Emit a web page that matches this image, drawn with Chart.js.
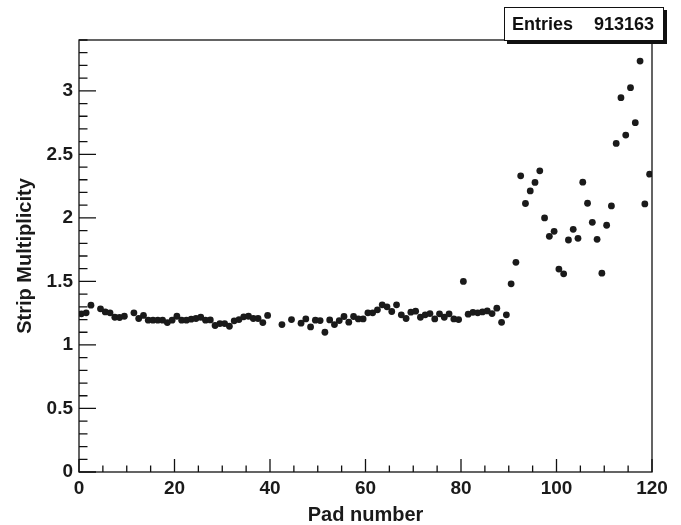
<!DOCTYPE html>
<html>
<head>
<meta charset="utf-8">
<script src="https://cdn.jsdelivr.net/npm/chart.js@4/dist/chart.umd.min.js"></script>
<style>
  body { margin: 0; background: #fff; }
  #wrap { width: 681px; height: 525px; }
</style>
</head>
<body>
<div id="wrap"><canvas id="myChart" width="681" height="525"></canvas></div>
<script>
// mean strip multiplicity per pad (null = empty pad)
const multiplicity = [
  1.245, 1.253, 1.313, null, 1.284, 1.26, 1.253, 1.218, 1.216, 1.226,
  null, 1.253, 1.208, 1.232, 1.195, 1.195, 1.195, 1.195, 1.176, 1.195,
  1.226, 1.195, 1.195, 1.203, 1.208, 1.218, 1.195, 1.197, 1.153, 1.168,
  1.168, 1.147, 1.19, 1.2, 1.221, 1.226, 1.208, 1.208, 1.176, 1.232,
  null, null, 1.16, null, 1.2, null, 1.171, 1.205, 1.142, 1.195,
  1.192, 1.1, 1.197, 1.16, 1.192, 1.224, 1.179, 1.224, 1.205, 1.205,
  1.253, 1.253, 1.276, 1.316, 1.3, 1.263, 1.316, 1.237, 1.208, 1.258,
  1.266, 1.218, 1.237, 1.247, 1.205, 1.245, 1.218, 1.245, 1.205, 1.2,
  1.5, 1.242, 1.257, 1.253, 1.26, 1.268, 1.247, 1.289, 1.178, 1.237,
  1.481, 1.65, 2.331, 2.113, 2.212, 2.279, 2.37, 2.0, 1.855, 1.894,
  1.597, 1.56, 1.826, 1.91, 1.839, 2.281, 2.115, 1.965, 1.831, 1.565,
  1.942, 2.094, 2.586, 2.946, 2.652, 3.025, 2.749, 3.234, 2.11, 2.344
];
const pads = multiplicity.map((v, i) => i);
const entries = 913163;

const points = [];
pads.forEach((p, i) => {
  if (multiplicity[i] !== null) points.push({ x: p + 0.5, y: multiplicity[i] });
});

const FONT = "'Liberation Sans', Arial, Helvetica, sans-serif";

// ROOT style frame, inward ticks and the stats box
const rootFrame = {
  id: 'rootFrame',
  afterDraw(chart) {
    const { ctx, chartArea: a, scales: { x, y } } = chart;
    ctx.save();
    ctx.strokeStyle = '#111';
    ctx.lineWidth = 1.3;
    ctx.strokeRect(a.left, a.top, a.right - a.left, a.bottom - a.top);

    ctx.beginPath();
    for (let i = 0; i <= 120; i += 5) {
      const px = x.getPixelForValue(i);
      const len = i % 20 === 0 ? 13 : 6.5;
      ctx.moveTo(px, a.bottom);
      ctx.lineTo(px, a.bottom - len);
    }
    for (let k = 0; k <= 34; k++) {
      const py = y.getPixelForValue(k / 10);
      const len = k % 5 === 0 ? 17 : 8.5;
      ctx.moveTo(a.left, py);
      ctx.lineTo(a.left + len, py);
    }
    ctx.stroke();

    // stats box
    ctx.fillStyle = '#111';
    ctx.fillRect(507, 10, 160, 34);
    ctx.fillStyle = '#fff';
    ctx.fillRect(504, 7, 160, 34);
    ctx.lineWidth = 1;
    ctx.strokeRect(504.5, 7.5, 159, 33);
    ctx.fillStyle = '#111';
    ctx.font = 'bold 18px ' + FONT;
    ctx.textBaseline = 'alphabetic';
    ctx.textAlign = 'left';
    ctx.fillText('Entries', 512, 30);
    ctx.textAlign = 'right';
    ctx.fillText(String(entries), 654, 30);
    ctx.restore();
  }
};

const config = {
  type: 'scatter',
  data: {
    datasets: [{
      data: points,
      backgroundColor: '#1a1a1a',
      borderWidth: 0,
      pointRadius: 3.4,
      pointHoverRadius: 3.4
    }]
  },
  options: {
    responsive: false,
    animation: false,
    layout: { padding: { top: 40, right: 29, left: 0, bottom: 0 } },
    scales: {
      x: {
        type: 'linear',
        min: 0,
        max: 120,
        afterFit: s => { s.height = 53; },
        grid: { display: false, drawTicks: false },
        border: { display: false },
        ticks: {
          stepSize: 20,
          padding: 5,
          color: '#1a1a1a',
          maxRotation: 0,
          font: { family: FONT, size: 19, weight: 'bold' }
        },
        title: {
          display: true,
          text: 'Pad number',
          color: '#1a1a1a',
          padding: { top: 0, bottom: 0 },
          font: { family: FONT, size: 20, weight: 'bold', lineHeight: 1.0 }
        }
      },
      y: {
        min: 0,
        max: 3.4,
        afterFit: s => { s.width = 79; },
        grid: { display: false, drawTicks: false },
        border: { display: false },
        ticks: {
          stepSize: 0.5,
          includeBounds: false,
          padding: 6,
          color: '#1a1a1a',
          font: { family: FONT, size: 19, weight: 'bold' },
          callback: v => String(Math.round(v * 10) / 10)
        },
        title: {
          display: true,
          text: 'Strip Multiplicity',
          color: '#1a1a1a',
          padding: { top: 13, bottom: 0 },
          font: { family: FONT, size: 20, weight: 'bold' }
        }
      }
    },
    plugins: {
      legend: { display: false },
      tooltip: { enabled: false }
    }
  },
  plugins: [rootFrame]
};

const myChart = new Chart(document.getElementById('myChart'), config);
</script>
</body>
</html>
